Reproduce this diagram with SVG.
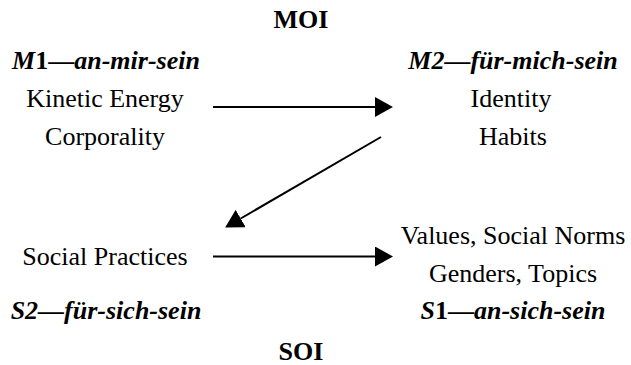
<svg xmlns="http://www.w3.org/2000/svg" width="631" height="365" viewBox="0 0 631 365">
<defs>
<style>
text{font-family:'Liberation Serif','Times New Roman',Times,serif;font-size:26px;font-weight:normal;fill:#000;text-anchor:middle}
.b{font-weight:bold}
.bi{font-weight:bold;font-style:italic}
.up{font-style:normal}
.conn line{stroke:#000;stroke-width:2}
</style>
<marker id="ah" markerUnits="userSpaceOnUse" markerWidth="18" markerHeight="20" refX="0" refY="10" orient="auto" viewBox="0 0 18 20">
<path d="M0,0 L18,10 L0,20 z" fill="#000"/>
</marker>
</defs>
<rect width="631" height="365" fill="#fff"/>
<g id="moi"><text class="b" x="301" y="28">MOI</text></g>
<g id="m1">
<text class="bi" x="106" y="69">M<tspan class="up">1—</tspan>an-mir-sein</text>
<text x="105" y="107">Kinetic Energy</text>
<text x="105" y="145">Corporality</text>
</g>
<g id="m2">
<text class="bi" x="513" y="69">M2—für-mich-sein</text>
<text x="511" y="107">Identity</text>
<text x="513" y="145">Habits</text>
</g>
<g id="s2">
<text x="105" y="265">Social Practices</text>
<text class="bi" x="106" y="319">S2—für-sich-sein</text>
</g>
<g id="s1">
<text x="513" y="244">Values, Social Norms</text>
<text x="513" y="282">Genders, Topics</text>
<text class="bi" x="513" y="319">S<tspan class="up">1—</tspan>an-sich-sein</text>
</g>
<g id="soi"><text class="b" x="301" y="360">SOI</text></g>
<g class="conn">
<line x1="213" y1="107" x2="375" y2="107" marker-end="url(#ah)"/>
<line x1="381" y1="137" x2="240.7" y2="218.5" marker-end="url(#ah)"/>
<line x1="213" y1="256.5" x2="375" y2="256.5" marker-end="url(#ah)"/>
</g>
</svg>
